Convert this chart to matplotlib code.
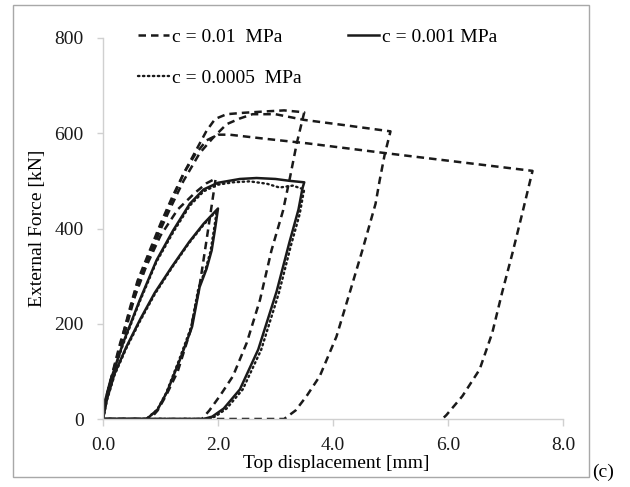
import matplotlib
matplotlib.use("Agg")
import matplotlib.pyplot as plt
from matplotlib.patches import Rectangle

plt.rcParams['font.family'] = ['Liberation Serif', 'DejaVu Serif']

'''c = 0.01 MPa : four load / unload cycles'''
D1_LOAD_X = [0, 0.05, 0.15, 0.3, 0.5, 0.75, 1.0, 1.3, 1.6, 1.8, 1.96]
D1_LOAD_F = [0, 40, 90, 160, 240, 320, 385, 440, 475, 495, 505]
D1_UNL_X = [1.96, 1.88, 1.8, 1.68, 1.52, 1.3, 1.1, 0.95, 0.82, 0]
D1_UNL_F = [505, 440, 375, 280, 185, 100, 50, 18, 0, 0]

D2_LOAD_X = [0, 0.05, 0.15, 0.3, 0.45, 0.6, 0.8, 1.0, 1.2, 1.4, 1.6, 1.8, 1.95, 2.15, 2.45, 2.85, 3.15, 3.5]
D2_LOAD_F = [0, 40, 85, 150, 220, 285, 345, 405, 460, 515, 560, 605, 630, 640, 643, 646, 648, 644]
D2_UNL_X = [3.5, 3.37, 3.25, 3.13, 2.93, 2.73, 2.5, 2.26, 2.03, 1.85, 1.72, 0]
D2_UNL_F = [644, 579, 506, 437, 354, 250, 160, 90, 48, 18, 0, 0]

D3_LOAD_X = [0, 0.05, 0.15, 0.3, 0.45, 0.6, 0.8, 1.0, 1.2, 1.4, 1.68, 1.91, 2.15, 2.38, 2.6, 3.0, 3.5, 4.2, 5.0]
D3_LOAD_F = [0, 38, 82, 145, 212, 278, 338, 398, 450, 500, 558, 590, 619, 631, 640, 640, 628, 617, 604]
D3_UNL_X = [5.0, 4.9, 4.81, 4.74, 4.51, 4.29, 4.06, 3.77, 3.54, 3.35, 3.15, 0]
D3_UNL_F = [604, 556, 500, 452, 354, 265, 173, 90, 48, 18, 0, 0]

D4_LOAD_X = [0, 0.05, 0.15, 0.3, 0.45, 0.6, 0.8, 1.0, 1.2, 1.4, 1.6, 1.8, 2.0, 2.2, 2.85, 3.54, 4.93, 7.47]
D4_LOAD_F = [0, 42, 88, 155, 225, 290, 350, 410, 465, 515, 555, 585, 597, 597, 588, 579, 558, 521]
D4_UNL_X = [7.47, 7.29, 7.12, 6.94, 6.77, 6.55, 6.25, 5.97, 5.9]
D4_UNL_F = [521, 431, 348, 265, 181, 104, 48, 8, 0]

'''c = 0.001 MPa : two cycles'''
S1_X = [0, 0.07, 0.2, 0.4, 0.65, 0.9, 1.2, 1.5, 1.75, 2.0,
        1.95, 1.89, 1.8, 1.68, 1.55, 1.34, 1.11, 0.95, 0.76, 0]
S1_F = [0, 42, 95, 150, 210, 265, 320, 372, 410, 442,
        400, 354, 315, 277, 194, 125, 56, 20, 0, 0]
S2_X = [0, 0.04, 0.12, 0.35, 0.64, 0.93, 1.22, 1.51, 1.75, 2.0, 2.38, 2.67, 3.0, 3.25, 3.5,
        3.47, 3.4, 3.24, 3.02, 2.7, 2.38, 2.1, 1.9, 1.75, 0]
S2_F = [0, 40, 77, 160, 250, 333, 396, 452, 482, 496, 504, 506, 504, 500, 497,
        485, 440, 370, 268, 146, 62, 22, 5, 0, 0]

'''c = 0.0005 MPa : two cycles'''
P1_X = [0, 0.07, 0.2, 0.4, 0.65, 0.9, 1.2, 1.5, 1.75, 1.98,
        1.93, 1.87, 1.78, 1.66, 1.53, 1.32, 1.1, 0.94, 0.75, 0]
P1_F = [0, 40, 92, 147, 207, 262, 318, 370, 408, 438,
        398, 352, 313, 275, 192, 123, 55, 19, 0, 0]
P2_X = [0, 0.04, 0.12, 0.35, 0.64, 0.93, 1.22, 1.51, 1.75, 2.0, 2.26, 2.55, 2.85, 3.07, 3.3, 3.5,
        3.48, 3.42, 3.27, 3.06, 2.75, 2.43, 2.15, 1.95, 1.8, 0]
P2_F = [0, 38, 75, 157, 247, 330, 392, 448, 478, 492, 497, 499, 494, 486, 490, 482,
        470, 430, 365, 265, 145, 62, 22, 5, 0, 0]

X_TICKS = [0, 2, 4, 6, 8]
Y_TICKS = [0, 200, 400, 600, 800]

fig = plt.figure(figsize=(6.3, 4.87), dpi=100)
ax = fig.add_axes([103 / 630, 1 - 419 / 487, 460 / 630, 381 / 487])

dash = dict(color='#1a1a1a', lw=1.8, linestyle=(0, (3.0, 2.0)))
solid = dict(color='#1a1a1a', lw=1.8, linestyle='-')
dot = dict(color='#1a1a1a', lw=1.7, linestyle=(0, (0.6, 1.5)), dash_capstyle='round')

for x, f in [(D1_LOAD_X + D1_UNL_X, D1_LOAD_F + D1_UNL_F),
             (D2_LOAD_X + D2_UNL_X, D2_LOAD_F + D2_UNL_F),
             (D3_LOAD_X + D3_UNL_X, D3_LOAD_F + D3_UNL_F),
             (D4_LOAD_X + D4_UNL_X, D4_LOAD_F + D4_UNL_F)]:
        h_d, = ax.plot(x, f, **dash)
for x, f in [(S1_X, S1_F), (S2_X, S2_F)]:
        h_s, = ax.plot(x, f, **solid)
for x, f in [(P1_X, P1_F), (P2_X, P2_F)]:
        h_p, = ax.plot(x, f, **dot)

ax.set_xlim(0, 8)
ax.set_ylim(0, 800)
ax.set_xticks(X_TICKS)
ax.set_xticklabels(['%.1f' % v for v in X_TICKS])
ax.set_yticks(Y_TICKS)
ax.set_yticklabels([str(v) for v in Y_TICKS])
for s in ['top', 'right']:
        ax.spines[s].set_visible(False)
for s in ['left', 'bottom']:
        ax.spines[s].set_color('#d0d0d0')
        ax.spines[s].set_linewidth(1.0)
ax.tick_params(axis='both', colors='#d0d0d0', labelcolor='#1a1a1a', labelsize=14, length=4, width=1.0)
ax.tick_params(axis='x', pad=8, length=5)
ax.tick_params(axis='y', pad=10)

fig.text(38 / 630, 1 - 228 / 487, 'External Force [kN]', rotation=90, ha='center', va='center', fontsize=14)
fig.text(336 / 630, 1 - 463 / 487, 'Top displacement [mm]', ha='center', va='center', fontsize=14)
fig.text(603 / 630, 1 - 472 / 487, '(c)', ha='center', va='center', fontsize=14)

fig.patches.append(Rectangle((13 / 630, 1 - 477 / 487), 576 / 630, 472 / 487, transform=fig.transFigure,
                             fill=False, edgecolor='#a8a8a8', lw=1.0))

ax.legend([h_d, h_p, h_s], ['c = 0.01  MPa', 'c = 0.0005  MPa', 'c = 0.001 MPa'],
          ncol=2, frameon=False, loc='upper left', bbox_to_anchor=(138 / 630, 1 - 28 / 487),
          bbox_transform=fig.transFigure, fontsize=14, handlelength=1.6, handletextpad=0.15,
          columnspacing=2.4, labelspacing=1.2, borderpad=0, borderaxespad=0)

fig.savefig('out.png', dpi=100)
